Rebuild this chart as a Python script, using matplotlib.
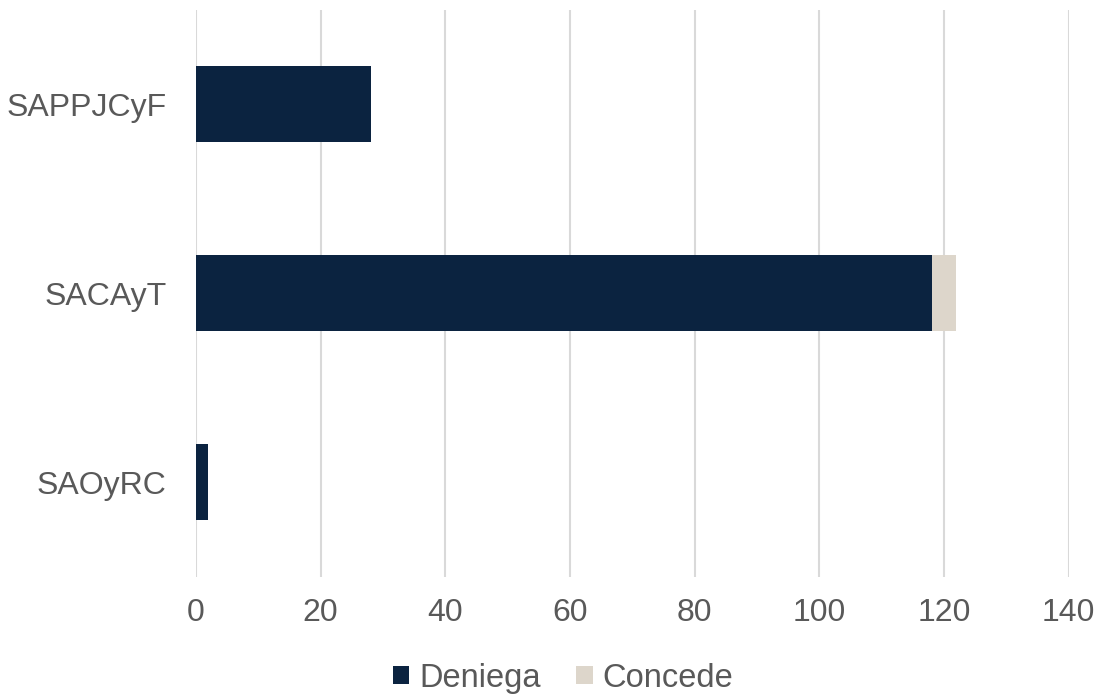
import matplotlib.pyplot as plt
import numpy as np

plt.rcParams['font.family'] = ['Liberation Sans', 'DejaVu Sans']

categories = ['SAPPJCyF', 'SACAyT', 'SAOyRC']
deniega = [28, 118, 2]
concede = [0, 4, 0]
xticks = [0, 20, 40, 60, 80, 100, 120, 140]

c_den = '#0B2340'
c_con = '#DDD6CB'
txt = '#595959'

fig = plt.figure(figsize=(11.04, 6.94), dpi=100)
ax = fig.add_axes([0.1775, 0.169, 0.7905, 0.817])

y = np.arange(len(categories))
ax.barh(y, deniega, height=0.4, color=c_den, label='Deniega', zorder=3)
ax.barh(y, concede, left=deniega, height=0.4, color=c_con, label='Concede', zorder=3)

ax.set_ylim(len(categories) - 0.5, -0.5)
ax.set_xlim(0, 140)
ax.set_xticks(xticks)
ax.set_yticks(y)
ax.set_yticklabels(categories)
ax.tick_params(axis='both', length=0, labelsize=23, labelcolor=txt)
ax.tick_params(axis='x', pad=15)
ax.tick_params(axis='y', pad=21)
ax.grid(axis='x', color='#D9D9D9', linewidth=1.5, zorder=0)
for s in ax.spines.values():
    s.set_visible(False)

leg = fig.legend(loc='center', bbox_to_anchor=(0.51, 0.023), ncol=2, frameon=False,
                 fontsize=23.5, handlelength=0.5, handleheight=0.5, handletextpad=0.3,
                 columnspacing=1.1, borderpad=0)
for t in leg.get_texts():
    t.set_color(txt)

fig.savefig('out.png', dpi=100)
